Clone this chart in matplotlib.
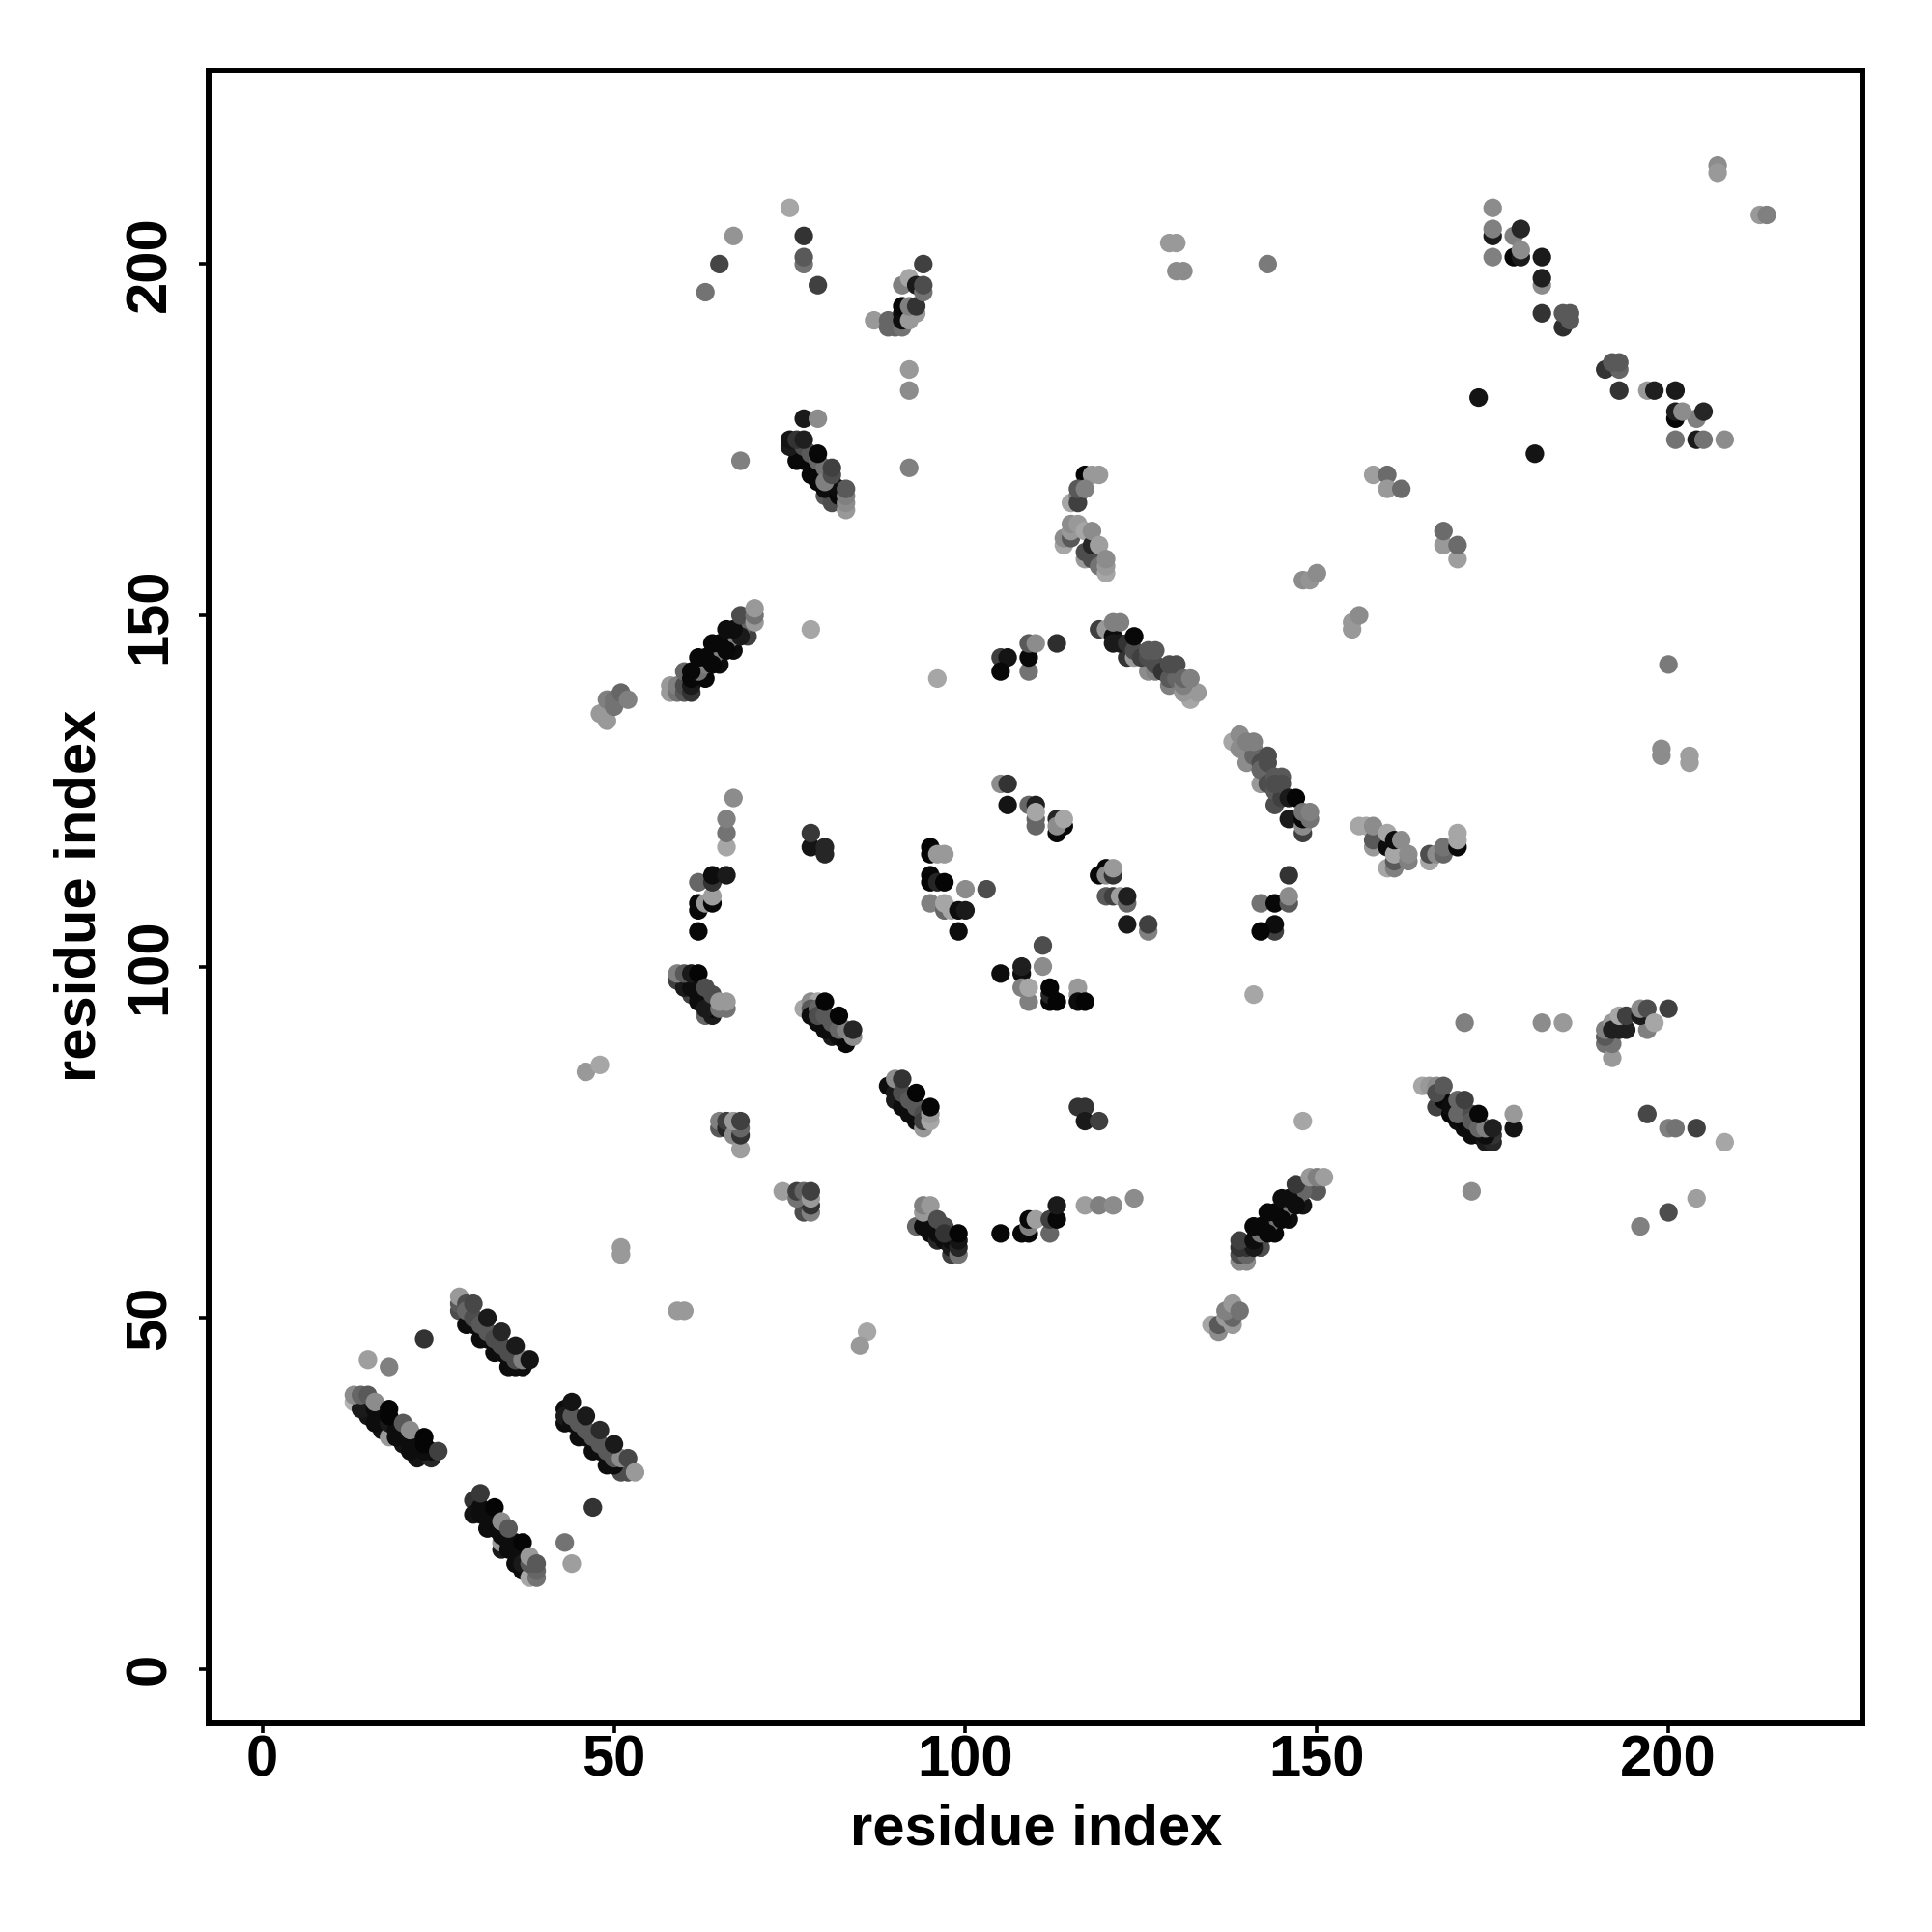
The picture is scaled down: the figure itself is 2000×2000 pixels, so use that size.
import matplotlib
matplotlib.use("Agg")
import matplotlib.pyplot as plt

# Each contact: (residue index x, residue index y, grey level of the point)
block_a = [(28,51,.3),(28,52,.35),(29,49,.05),(31,47,.05),(33,45,.05),(35,43,.05),(36,43,.05),(37,43,.05),(30,49,.05),(32,47,.05),(34,45,.05),
           (28,53,.6),(29,52,.3),(29,51,.4),(30,50,.3),(31,49,.35),(32,48,.35),(33,47,.3),(34,46,.3),(35,45,.3),(36,44,.3),(37,44,.5),
           (30,52,.28),(32,50,.1),(34,48,.15),(36,46,.1),(38,44,.08)]
block_b = [(13,38,.7),(15,36,.08),(14,37,.1),(17,34,.08),(18,33,.6),(20,32,.08),(22,30,.08),(24,30,.15),(16,35,.05),(19,33,.05),(21,31,.05),
           (16,37,.05),(17,36,.05),(18,35,.1),(19,34,.05),(20,33,.05),(21,32,.05),(22,32,.05),(23,31,.05),(24,31,.05),
           (13,39,.55),(14,39,.4),(15,39,.35),(16,38,.55),(18,37,.02),(18,36,.02),(20,35,.35),(21,34,.55),(23,33,.02),(23,32,.02),(25,31,.25)]
block_c = [(43,37,.05),(43,35,.05),(45,33,.05),(47,31,.05),(49,29,.05),(51,28,.3),(52,28,.3),(43,36,.1),(44,35,.05),(46,33,.05),(48,31,.05),(50,29,.05),
           (44,36,.35),(45,35,.35),(46,34,.35),(47,33,.35),(48,32,.35),(49,31,.35),(50,30,.35),(51,30,.55),
           (44,38,.08),(46,36,.1),(48,34,.17),(50,32,.1),(52,30,.28),(53,28,.6)]
block_d = [(30,24,.2),(30,22,.08),(32,20,.05),(34,17,.1),(36,15,.05),(34,18,.6),(31,22,.05),(33,20,.05),(35,17,.05),(37,14,.05),
           (31,23,.05),(32,22,.05),(33,21,.05),(34,19,.05),(35,18,.05),(36,17,.05),(37,16,.05),(36,18,.05),(37,15,.1),
           (38,13,.65),(39,13,.45),(39,14,.4),(38,15,.35),(31,25,.22),(33,23,.02),(34,21,.55),(35,20,.35),(37,18,.02),(38,16,.6),(39,15,.35)]
block_e = [(59,98,.25),(61,96,.25),(63,93,.4),(60,97,.1),(62,95,.05),(64,93,.1),(61,97,.05),(62,96,.05),(63,95,.05),(64,94,.05),(63,94,.1),
           (59,99,.5),(60,99,.35),(61,99,.1),(62,99,.02),(63,97,.3),(64,96,.3),(65,94,.45),(66,94,.45),(65,95,.6),(66,95,.6)]
block_f = [(77,94,.65),(78,95,.55),(79,95,.65),(78,94,.35),(78,93,.05),(79,92,.05),(81,90,.1),(80,91,.05),(82,90,.05),(83,89,.03),(80,92,.05),(81,91,.05),
           (79,94,.4),(79,93,.3),(80,93,.35),(81,92,.35),(82,91,.4),(83,91,.5),(84,90,.55),(80,95,.02),(82,93,.02),(84,91,.15)]
block_g = [(89,83,.05),(90,81,.1),(92,79,.05),(90,82,.1),(91,80,.05),(93,78,.05),(92,80,.05),(94,77,.6),(90,84,.55),(91,82,.3),(92,81,.35),(93,80,.35),(94,79,.3),(94,78,.25),
           (95,78,.65),(95,79,.6),(91,84,.2),(93,82,.02),(95,80,.02)]
block_h = [(65,77,.35),(65,78,.5),(66,77,.15),(66,78,.25),(67,76,.55),(68,74,.62),(68,76,.2),(68,77,.4),(67,78,.6),(68,78,.25)]
block_i = [(74,68,.62),(77,65,.3),(78,65,.5),(78,66,.2),(76,67,.45),(76,68,.25),(77,68,.4),(78,67,.6),(78,68,.25)]
block_j = [(93,63,.4),(94,63,.05),(95,62,.05),(96,61,.15),(97,61,.05),(98,59,.25),(98,60,.1),(96,62,.05),(98,61,.05),(99,59,.45),(99,60,.15),(99,61,.08),(95,64,.05),
           (94,65,.6),(94,66,.5),(95,66,.6),(96,64,.3),(97,63,.3),(97,62,.2),(99,62,.02)]
block_k = [(105,62,.03),(108,62,.03),(109,62,.03),(109,63,.5),(109,64,.03),(110,64,.62),(112,62,.4),(112,64,.25),(113,64,.03),(113,66,.1),
           (117,66,.62),(119,66,.5),(121,66,.55),(124,67,.55)]
block_l = [(48,136,.6),(49,135,.6),(49,138,.5),(50,138,.45),(50,137,.45),(51,139,.4),(52,138,.5),
           (58,140,.6),(58,139,.6),(59,139,.45),(59,140,.5),(60,139,.35),(60,140,.3),(60,142,.4),(61,139,.2),(61,140,.1),(61,141,.03),(63,141,.03),(65,143,.05),(67,145,.05),(69,147,.25),
           (62,142,.45),(63,143,.5),(64,144,.5),(65,145,.5),(66,146,.5),(67,147,.5),(68,148,.5),(69,149,.4),
           (64,143,.03),(66,145,.03),(68,147,.1),(63,144,.03),(65,146,.03),(67,148,.05),
           (61,142,.03),(62,144,.03),(64,146,.03),(66,148,.05),(68,150,.3),(70,149,.6),(70,150,.45),(70,151,.6)]
block_m = [(105,144,.25),(106,144,.08),(105,142,.03),(109,142,.45),(109,144,.03),(109,146,.35),(110,146,.55),(113,146,.18)]
block_n = [(123,144,.2),(124,144,.6),(126,142,.55),(127,142,.5),(129,140,.5),(132,138,.65),(131,139,.6),(133,139,.6),
           (119,148,.25),(120,148,.6),(121,147,.05),(121,146,.1),(122,146,.1),(123,146,.2),(124,145,.3),(125,144,.25),(126,144,.3),(127,143,.3),(128,142,.2),(129,141,.35),(130,141,.4),(131,140,.5),
           (121,149,.5),(122,149,.5),(124,147,.03),(126,145,.35),(127,145,.35),(129,143,.3),(130,143,.3),(131,141,.4),(132,141,.5)]
block_o = [(138,132,.65),(139,131,.55),(140,129,.55),(142,126,.6),(144,123,.3),(146,121,.1),(148,119,.25),(148,120,.55),
           (141,131,.5),(141,130,.4),(142,129,.3),(142,128,.4),(143,127,.4),(143,126,.3),(144,125,.35),(145,124,.25),(148,121,.03),
           (139,133,.55),(140,132,.5),(141,132,.5),(143,130,.3),(143,129,.3),(144,127,.35),(145,127,.35),(144,126,.3),(145,126,.3),(146,124,.1),(147,124,.02),(149,121,.45),(148,122,.45),(149,122,.5)]
block_p = [(156,120,.65),(157,120,.65),(158,117,.6),(158,118,.35),(158,120,.55),(160,117,.05),(160,114,.65),(161,114,.5),(161,115,.35),(160,119,.65),(161,116,.65),(161,118,.05),(162,118,.55),(163,115,.5),(163,116,.55)]
block_q = [(166,115,.65),(166,116,.3),(167,116,.55),(168,116,.4),(168,117,.45),(170,117,.03),(170,118,.65),(170,119,.65)]
block_r = [(146,113,.2),(142,109,.45),(144,109,.03),(146,109,.35),(146,110,.55),(144,105,.25),(144,106,.05),(142,105,.02)]
block_s = [(191,89,.45),(192,87,.6),(192,89,.45),(191,90,.35),(191,91,.5),(192,92,.6),(192,91,.12),(193,91,.12),(194,91,.12),(193,93,.65),(194,93,.25),
           (197,91,.5),(196,93,.1),(196,94,.55),(197,94,.3),(198,92,.65),(200,94,.25)]
block_t = [(167,80,.25),(168,81,.03),(170,78,.05),(172,76,.05),(171,77,.05),(173,76,.05),(174,75,.1),(175,75,.15),(175,76,.2),(169,79,.03),(171,78,.03),(172,77,.05),(170,80,.05),(174,76,.05),
           (165,83,.65),(166,83,.6),(167,83,.55),(167,82,.3),(168,83,.35),(169,80,.05),(170,79,.4),(171,79,.4),(172,79,.3),(172,78,.35),(173,77,.4),(174,77,.5),
           (170,81,.4),(171,81,.25),(173,79,.03),(175,77,.12),(178,77,.08),(178,79,.6)]
block_u = [(139,58,.55),(140,58,.55),(139,59,.3),(140,59,.4),(139,60,.2),(140,60,.2),(142,60,.3),(141,60,.1),(144,62,.03),(146,64,.05),(148,66,.08),(150,68,.35),
           (139,61,.25),(141,61,.05),(142,62,.45),(143,63,.45),(144,64,.45),(145,65,.45),(146,66,.45),(147,67,.4),(148,68,.4),
           (143,62,.03),(145,64,.03),(147,66,.05),(142,63,.03),(144,65,.03),(146,67,.05),
           (141,63,.03),(143,65,.03),(145,67,.05),(147,69,.22),(149,70,.6),(150,70,.5),(151,70,.62)]
block_v = [(135,49,.65),(136,48,.55),(136,49,.35),(137,50,.6),(138,49,.6),(138,50,.4),(137,51,.5),(138,52,.6),(139,51,.45)]
block_w = [(87,192,.6),(89,191,.4),(90,191,.4),(91,191,.45),(89,192,.4),(91,192,.05),(91,193,.05),(91,194,.03),(92,192,.6),(93,193,.6),(92,194,.5),(93,194,.2),
           (91,197,.5),(92,198,.65),(93,197,.1),(94,196,.45),(94,197,.3),(94,200,.25)]
block_x = [(76,172,.03),(78,170,.03),(80,167,.35),(81,166,.3),(80,168,.05),(81,168,.05),(82,167,.03),(81,169,.05),(82,168,.05),(77,172,.03),(79,170,.03),(79,169,.03),
           (75,174,.1),(77,174,.3),(78,173,.35),(79,172,.4),(80,171,.45),(80,169,.5),
           (75,175,.08),(76,175,.2),(77,175,.12),(79,173,.03),(81,170,.3),(81,171,.25),(83,165,.6),(83,166,.55),(83,167,.5),(83,168,.35)]
block_y = [(117,170,.02),(118,170,.6),(119,170,.6),(115,166,.65),(116,167,.5),(116,166,.25),(116,168,.35),(117,168,.5),
           (114,160,.65),(114,161,.55),(115,161,.35),(115,162,.6),(115,163,.55),(116,163,.6),(117,158,.6),(117,159,.3),(117,162,.65),
           (118,158,.3),(118,160,.15),(119,157,.45),(118,162,.55),(119,160,.62),(120,156,.65),(120,157,.6),(120,158,.55)]
centre_low = [(105,99,.05),(108,99,.05),(108,100,.12),(111,100,.55),(111,103,.3),(108,97,.5),(109,95,.5),(109,97,.65),
              (112,95,.03),(112,96,.15),(112,97,.02),(113,95,.02),(116,96,.6),(116,97,.6),(116,95,.05),(117,95,.02),
              (116,80,.2),(117,80,.2),(117,78,.1),(119,78,.25)]
centre_mid = [(62,105,.03),(62,108,.03),(62,109,.03),(63,109,.6),(64,109,.03),(64,110,.62),(62,112,.4),(64,112,.2),(64,113,.05),(66,113,.1),
              (66,117,.65),(66,119,.45),(66,121,.5),(67,124,.55),(78,117,.08),(78,119,.22),(80,116,.15),(80,117,.15),
              (95,116,.02),(95,117,.02),(96,116,.6),(97,116,.6),(95,113,.03),(95,112,.02),(96,112,.15),(97,112,.02),
              (100,111,.55),(103,111,.3),(95,109,.5),(97,108,.4),(97,109,.65),(98,108,.65),(99,108,.05),(100,108,.1),(99,105,.05)]
centre_high = [(105,126,.55),(106,126,.2),(106,123,.08),(109,123,.4),(110,123,.12),(110,120,.4),(110,121,.4),(110,122,.65),
               (113,119,.03),(114,120,.03),(113,121,.15),(113,120,.55),(114,121,.65),
               (119,113,.03),(120,114,.03),(120,113,.55),(121,113,.2),(121,114,.6),
               (120,110,.35),(121,110,.25),(122,110,.62),(123,109,.4),(123,110,.12),(123,106,.1),(126,105,.5),(126,106,.25)]
top_left = [(75,208,.65),(67,204,.58),(77,204,.2),(77,200,.45),(77,201,.35),(65,200,.27),(63,196,.45),(79,197,.25),
            (92,185,.6),(92,182,.55),(92,171,.5),(77,178,.1),(79,178,.55),(68,172,.5)]
top_right = [(175,208,.55),(175,204,.1),(175,205,.5),(178,204,.5),(179,205,.15),(175,201,.5),(178,201,.03),(179,201,.1),(179,202,.55),
             (182,201,.1),(182,197,.55),(182,198,.12),(182,193,.2),(185,191,.18),(185,193,.35),(186,193,.35),(186,192,.35),
             (191,185,.2),(193,185,.4),(192,186,.35),(193,186,.35),(193,182,.2),(197,182,.6),(198,182,.12),(201,182,.1),
             (201,178,.03),(201,179,.12),(204,178,.5),(202,179,.55),(205,179,.15),(201,175,.45),(204,175,.1),(205,175,.45),(208,175,.55),
             (173,181,.08),(181,173,.08),(207,214,.55),(207,213,.6),(213,207,.6),(214,207,.5)]
upper_scatter = [(129,203,.6),(130,203,.6),(130,199,.55),(131,199,.55),(143,200,.48),
                 (158,170,.62),(160,170,.42),(160,168,.6),(162,168,.42),(168,160,.6),(168,162,.42),(170,158,.62),(170,160,.42),
                 (148,155,.55),(149,155,.58),(150,156,.55),(155,148,.6),(155,149,.6),(156,150,.55),
                 (200,143,.48),(199,130,.55),(199,131,.55),(203,129,.62),(203,130,.62),(78,148,.65),(96,141,.65)]
lower_scatter = [(51,59,.6),(51,60,.6),(59,51,.6),(60,51,.6),(15,44,.62),(18,43,.5),(23,47,.2),(47,23,.2),(43,18,.45),(44,15,.62),
                 (86,48,.65),(85,46,.6),(46,85,.6),(48,86,.65),(141,96,.65),(148,78,.65),(171,92,.5),(182,92,.55),(185,92,.6),
                 (197,79,.28),(200,77,.5),(201,77,.45),(204,77,.25),(208,75,.65),(172,68,.55),(204,67,.62),(200,65,.3),(196,63,.5)]

blocks = [block_a, block_b, block_c, block_d, block_e, block_f, block_g, block_h, block_i, block_j,
          block_k, block_l, block_m, block_n, block_o, block_p, block_q, block_r, block_s, block_t,
          block_u, block_v, block_w, block_x, block_y, centre_low, centre_mid, centre_high,
          top_left, top_right, upper_scatter, lower_scatter]
ticks = [0, 50, 100, 150, 200]
axis_label = "residue index"

plt.rcParams["font.family"] = ["Liberation Sans", "DejaVu Sans"]
plt.rcParams["font.weight"] = "bold"

W, H = 2000, 2000
fig = plt.figure(figsize=(20, 20), dpi=100, facecolor="white")
ax = fig.add_axes([216 / W, 1 - 1783.7 / H, (1928 - 216) / W, (1783.7 - 72.7) / H])

for block in blocks:
    xs = [p[0] for p in block]
    ys = [p[1] for p in block]
    cs = [str(p[2]) for p in block]
    ax.scatter(xs, ys, c=cs, s=192, linewidths=0, zorder=2)

ax.set_xlim(-7.66, 227.6)
ax.set_ylim(-7.7, 227.6)
ax.set_xticks(ticks)
ax.set_yticks(ticks)
ax.set_xticklabels([str(t) for t in ticks], fontsize=43, fontweight="bold")
ax.set_yticklabels([str(t) for t in ticks], fontsize=43, fontweight="bold", rotation=90, va="center")
ax.tick_params(axis="both", length=7.5, width=2.6, color="black")
ax.tick_params(axis="x", pad=1)
ax.tick_params(axis="y", pad=16)
for side in ax.spines.values():
    side.set_linewidth(4.3)
    side.set_color("black")
    side.set_capstyle("projecting")

fig.text(1072.5 / W, 1 - 1909 / H, axis_label, fontsize=43, fontweight="bold", ha="center", va="baseline")
fig.text(99 / W, 1 - 927 / H, axis_label, fontsize=43, fontweight="bold", rotation=90,
         ha="center", va="baseline", rotation_mode="anchor")

fig.savefig("out.png", dpi=100, facecolor="white")
